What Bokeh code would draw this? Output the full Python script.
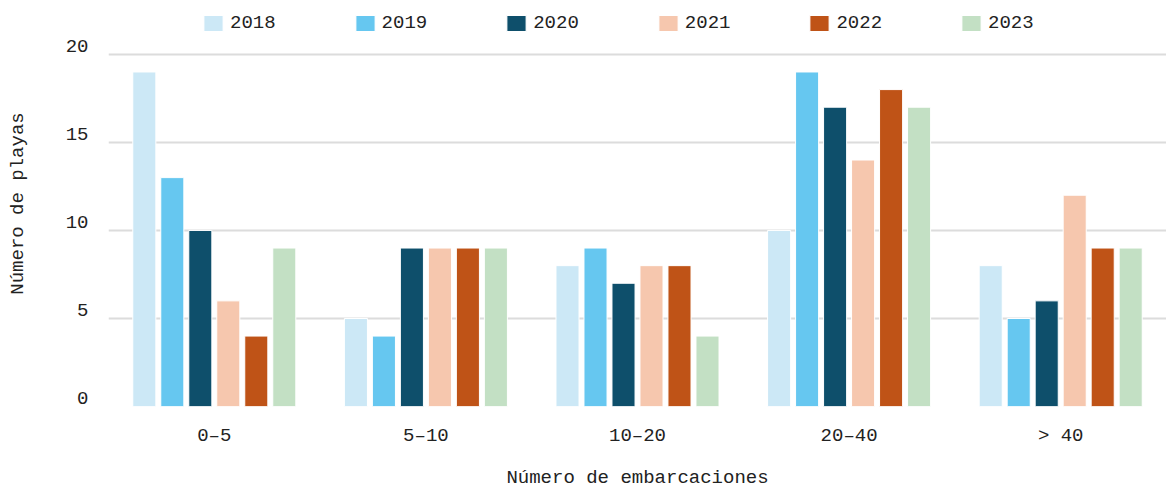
from bokeh.plotting import figure
from bokeh.models import FactorRange, Range1d, Legend, LegendItem, LinearAxis, FixedTicker
from bokeh.transform import dodge
from bokeh.models import ColumnDataSource
from bokeh.embed import file_html
from bokeh.resources import INLINE

categories = ["0–5", "5–10", "10–20", "20–40", "> 40"]
years = ["2018", "2019", "2020", "2021", "2022", "2023"]
v2018 = [19, 5, 8, 10, 8]
v2019 = [13, 4, 9, 19, 5]
v2020 = [10, 9, 7, 17, 6]
v2021 = [6, 9, 8, 14, 12]
v2022 = [4, 9, 8, 18, 9]
v2023 = [9, 9, 4, 17, 9]
colors = ["#cce8f6", "#66c7f0", "#0e4f6b", "#f6c7ae", "#bf5317", "#c3e0c4"]
y_ticks = [0, 5, 10, 15, 20]

FONT = "Liberation Mono"
FS = "19px"
TXT = "#222222"

data = {"cat": categories}
for y, vals in zip(years, [v2018, v2019, v2020, v2021, v2022, v2023]):
    data[y] = vals
source = ColumnDataSource(data)

Y_END = 23.06      # headroom above 20 holds the legend
LABEL_SHIFT = 0.5  # tick labels sit slightly above their grid lines

p = figure(x_range=FactorRange(*categories, range_padding=0), y_range=Range1d(0, Y_END),
           width=1166, height=491, output_backend="svg", toolbar_location=None,
           min_border_left=108, min_border_right=0, min_border_top=0, min_border_bottom=84)

step = 0.1323
renderers = []
for i, (y, c) in enumerate(zip(years, colors)):
    off = (i - 2.5) * step
    r = p.vbar(x=dodge("cat", off, range=p.x_range), top=y, width=0.109, source=source,
               fill_color=c, line_color="white", line_width=1)
    renderers.append(r)

legend = Legend(items=[LegendItem(label=y, renderers=[r]) for y, r in zip(years, renderers)],
                orientation="horizontal", location=(93, 372))
legend.label_text_font = FONT
legend.label_text_font_size = FS
legend.label_text_color = TXT
legend.glyph_width = 24
legend.glyph_height = 20
legend.spacing = 77
legend.label_standoff = 5
legend.border_line_color = None
legend.background_fill_alpha = 0
legend.padding = 2
legend.margin = 0
p.add_layout(legend)

p.outline_line_color = None
p.xgrid.grid_line_color = None
p.ygrid.grid_line_color = "#dcdcdc"
p.ygrid.grid_line_width = 2
p.yaxis.ticker = y_ticks
p.yaxis.visible = False

p.extra_y_ranges = {"lab": Range1d(-LABEL_SHIFT, Y_END - LABEL_SHIFT)}
yax = LinearAxis(y_range_name="lab", ticker=FixedTicker(ticks=y_ticks))
p.add_layout(yax, "left")

for ax in (p.xaxis[0], yax):
    ax.axis_line_color = None
    ax.major_tick_line_color = None
    ax.minor_tick_line_color = None
    ax.major_label_text_font = FONT
    ax.major_label_text_font_size = FS
    ax.major_label_text_color = TXT
    ax.axis_label_text_font = FONT
    ax.axis_label_text_font_size = FS
    ax.axis_label_text_font_style = "normal"
    ax.axis_label_text_color = TXT

p.xaxis.axis_label = "Número de embarcaciones"
yax.axis_label = "Número de playas"
p.xaxis.major_label_standoff = 12
p.xaxis.axis_label_standoff = 17
yax.major_label_standoff = 14
yax.axis_label_standoff = 34

open("out.html", "w").write(file_html(p, INLINE))
